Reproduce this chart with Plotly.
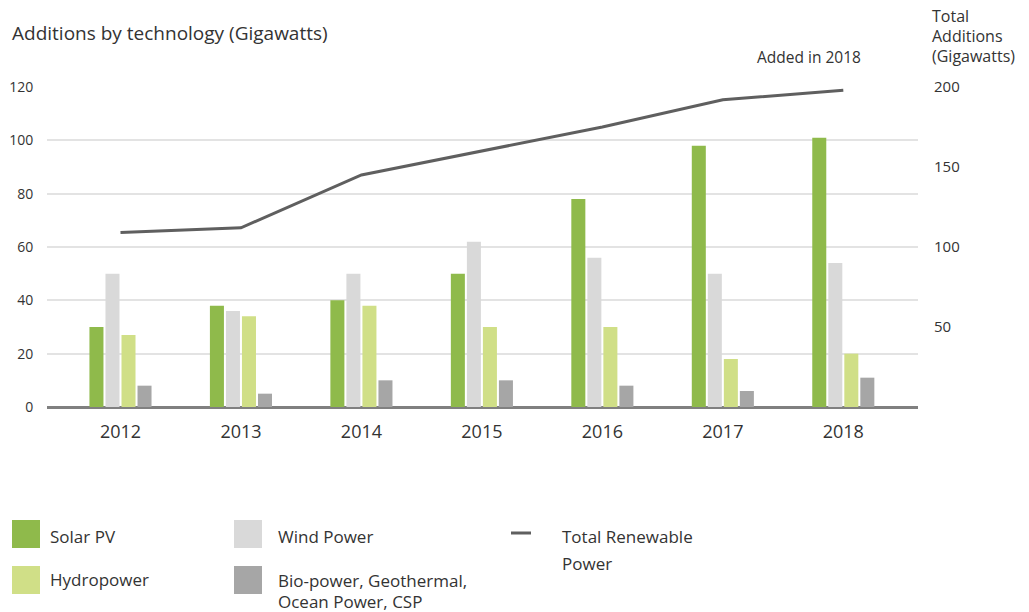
import plotly.graph_objects as go

years = ["2012", "2013", "2014", "2015", "2016", "2017", "2018"]
solar_pv = [30, 38, 40, 50, 78, 98, 101]
wind_power = [50, 36, 50, 62, 56, 50, 54]
hydropower = [27, 34, 38, 30, 30, 18, 20]
bio_other = [8, 5, 10, 10, 8, 6, 11]
total_renewable = [109, 112, 145, 160, 175, 192, 198]

left_ticks = [0, 20, 40, 60, 80, 100, 120]
right_ticks = [50, 100, 150, 200]

C_SOLAR = "#8fba4b"
C_WIND = "#d9d9d9"
C_HYDRO = "#d0df87"
C_BIO = "#a6a6a6"
C_LINE = "#5f5f5f"
TXT = "#333333"
FONT = "Open Sans"

W, H = 1029, 612
L, R, T, B = 47, 918, 87, 407


def px(x):
    return (x - L) / (R - L)


def py(y):
    return (B - y) / (B - T)


fig = go.Figure()
for name, vals, col in [
    ("Solar PV", solar_pv, C_SOLAR),
    ("Wind Power", wind_power, C_WIND),
    ("Hydropower", hydropower, C_HYDRO),
    ("Bio-power, Geothermal, Ocean Power, CSP", bio_other, C_BIO),
]:
    fig.add_trace(go.Bar(x=years, y=vals, name=name, marker=dict(color=col, line=dict(width=0)),
                         showlegend=False))

fig.add_trace(go.Scatter(x=years, y=total_renewable, name="Total Renewable Power", yaxis="y2",
                         mode="lines", line=dict(color=C_LINE, width=3), showlegend=False))

fig.update_layout(
    width=W, height=H,
    margin=dict(l=L, r=W - R, t=T, b=H - B, pad=0),
    paper_bgcolor="white", plot_bgcolor="white",
    font=dict(family=FONT, color=TXT, size=15),
    barmode="group", bargap=0.468, bargroupgap=0.125,
    xaxis=dict(type="category", range=[-0.61, 6.62], showgrid=False, showline=False,
               zeroline=False, ticks="outside", ticklen=8, tickcolor="rgba(0,0,0,0)",
               automargin=False, tickfont=dict(size=18, color=TXT, family=FONT)),
    yaxis=dict(range=[0, 120], tickvals=left_ticks, showgrid=True, gridcolor="#e3e3e3",
               gridwidth=1.5, zeroline=True, zerolinecolor="#808080", zerolinewidth=3,
               showline=False, ticks="outside", ticklen=10, tickcolor="rgba(0,0,0,0)",
               automargin=False, tickfont=dict(size=14, color=TXT, family=FONT)),
    yaxis2=dict(range=[0, 200], tickvals=right_ticks, overlaying="y", side="right",
                showgrid=False, zeroline=False, showline=False, ticks="outside", ticklen=12,
                tickcolor="rgba(0,0,0,0)", automargin=False,
                tickfont=dict(size=15, color=TXT, family=FONT)),
    showlegend=False,
)

ann = []
shapes = []


def text(x, y, s, size=16, xanchor="left"):
    ann.append(dict(x=px(x), y=py(y), xref="paper", yref="paper", text=s, showarrow=False,
                    xanchor=xanchor, yanchor="middle", align="left", borderpad=0,
                    font=dict(size=size, color=TXT, family=FONT)))


text(11, 33, "Additions by technology (Gigawatts)", size=19)
text(756, 57, "Added in 2018", size=15.5)
text(931, 16, "Total", size=16)
text(931, 36, "Additions", size=16)
text(931, 56, "(Gigawatts)", size=16)


def square(x0, y0, col):
    shapes.append(dict(type="rect", xref="paper", yref="paper", x0=px(x0), x1=px(x0 + 28),
                       y0=py(y0), y1=py(y0 + 28), fillcolor=col, line=dict(width=0)))


LS = 17
square(12, 520, C_SOLAR)
text(49, 536, "Solar PV", LS)
square(12, 566, C_HYDRO)
text(49, 579, "Hydropower", LS)
square(234, 520, C_WIND)
text(277, 536, "Wind Power", LS)
square(234, 566, C_BIO)
text(277, 580, "Bio-power, Geothermal,", LS)
text(277, 601, "Ocean Power, CSP", LS)
shapes.append(dict(type="line", xref="paper", yref="paper", x0=px(511), x1=px(531),
                   y0=py(533), y1=py(533), line=dict(color=C_LINE, width=3)))
text(561, 536, "Total Renewable", LS)
text(561, 563, "Power", LS)

fig.update_layout(annotations=ann, shapes=shapes)
fig.write_html("out.html", config={"displayModeBar": False},
               post_script="document.body.style.margin='0';document.body.style.overflow='hidden';")
